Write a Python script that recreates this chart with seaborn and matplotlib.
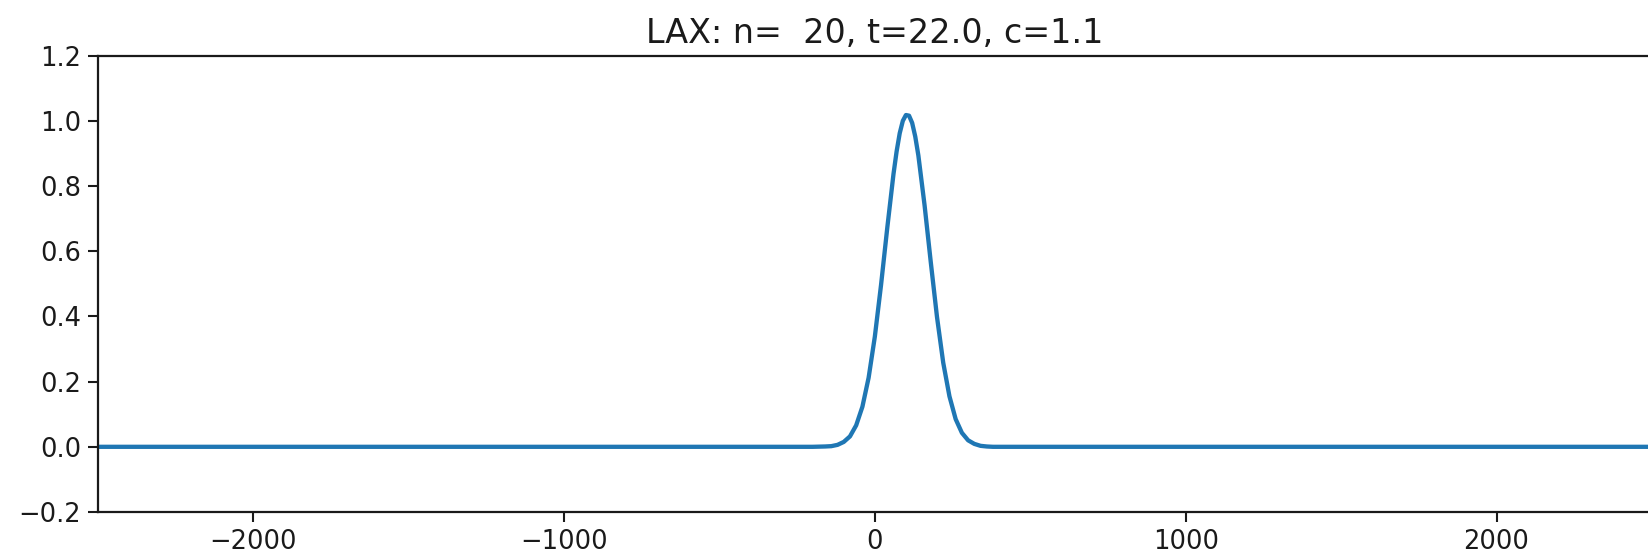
import numpy as np
import pandas as pd
import matplotlib
matplotlib.use("Agg")
import matplotlib.pyplot as plt
import seaborn as sns

# Values
x_vals = [-2500, -400, -200, -160, -140, -120, -100, -80, -60, -40, -20, 0, 20, 40,
          60, 70, 80, 90, 100, 110, 120, 130, 140, 160, 180, 200, 220, 240, 260,
          280, 300, 320, 340, 360, 380, 600, 2500]
u_vals = [0.0, 0.0, 0.0, 0.001, 0.002, 0.006, 0.015, 0.032, 0.066, 0.123, 0.212,
          0.338, 0.497, 0.672, 0.837, 0.906, 0.962, 1.000, 1.018, 1.016, 0.994,
          0.952, 0.894, 0.741, 0.566, 0.398, 0.258, 0.155, 0.085, 0.043, 0.020,
          0.009, 0.003, 0.001, 0.0, 0.0, 0.0]
x_ticks = [-2000, -1000, 0, 1000, 2000]
y_ticks = [-0.2, 0.0, 0.2, 0.4, 0.6, 0.8, 1.0, 1.2]
y_tick_labels = ["\u22120.2", "0.0", "0.2", "0.4", "0.6", "0.8", "1.0", "1.2"]
title_text = "LAX: n=  20, t=22.0, c=1.1"

sns.set_style("ticks")
plt.rcParams["font.family"] = ["DejaVu Sans"]
plt.rcParams["axes.edgecolor"] = "#1a1a1a"
plt.rcParams["xtick.color"] = "#1a1a1a"
plt.rcParams["ytick.color"] = "#1a1a1a"

df = pd.DataFrame({"x": x_vals, "u": u_vals})

fig = plt.figure(figsize=(16.48, 5.57), dpi=100)
ax = fig.add_axes([0.0593, 0.0808, 1.0024 - 0.0593, 0.900 - 0.0808])
sns.lineplot(data=df, x="x", y="u", ax=ax, color="#1f77b4", linewidth=3.1)

ax.set_xlim(-2500, 2500)
ax.set_ylim(-0.2, 1.2)
ax.set_xticks(x_ticks)
ax.set_yticks(y_ticks)
ax.set_yticklabels(y_tick_labels)
ax.set_xlabel("")
ax.set_ylabel("")
ax.tick_params(axis="both", labelsize=18.5, labelcolor="#1a1a1a", length=7, width=1.5, pad=5)
for s in ax.spines.values():
    s.set_linewidth(1.6)
ax.set_title(title_text, fontsize=24, pad=9, color="#1a1a1a")

fig.savefig("out.png", dpi=100)
